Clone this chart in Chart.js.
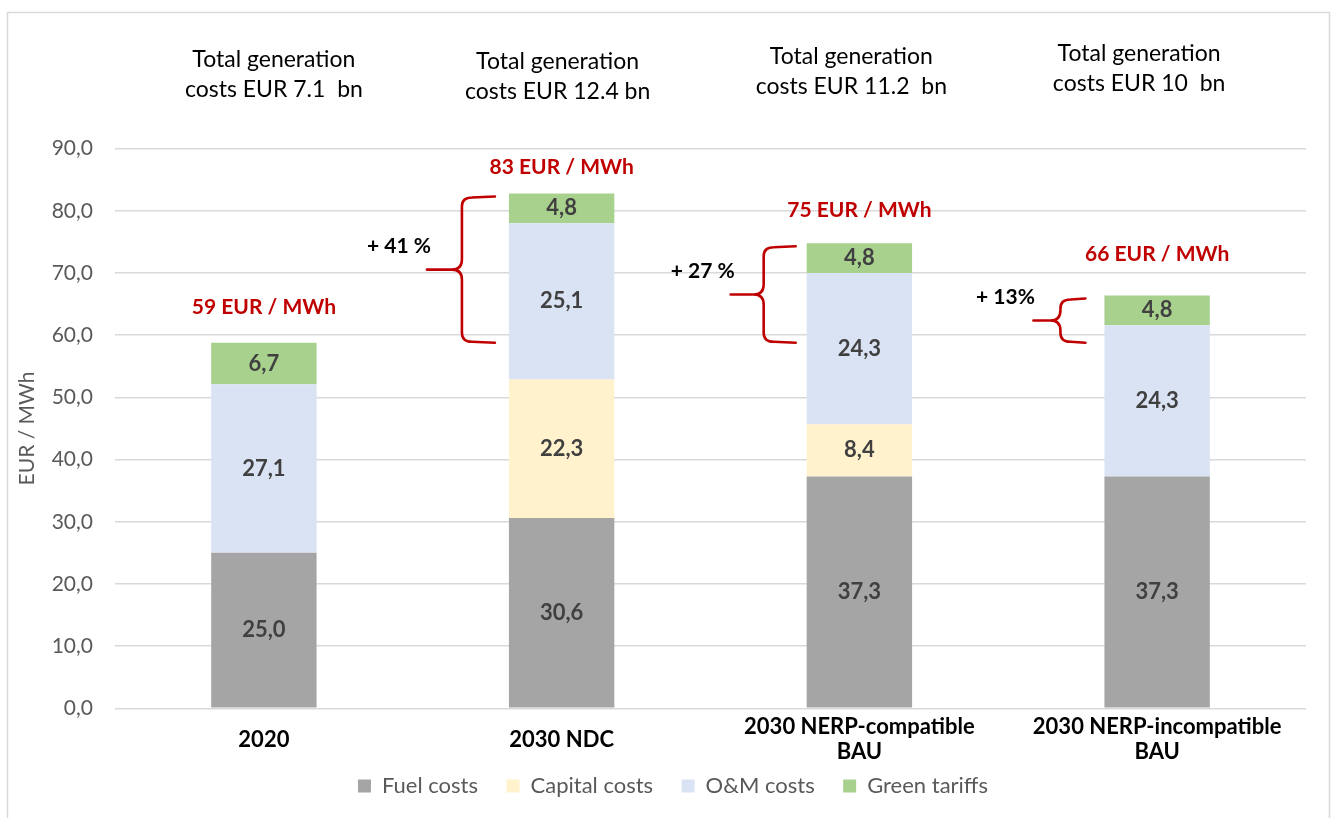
<!DOCTYPE html>
<html>
<head>
<meta charset="utf-8">
<script src="https://cdn.jsdelivr.net/npm/chart.js@4"></script>
<style>
  html, body { margin: 0; padding: 0; background: #fff; }
  #wrap { position: relative; width: 1335px; height: 818px; }
  canvas { display: block; }
</style>
</head>
<body>
<div id="wrap"><canvas id="c" width="1335" height="818"></canvas></div>
<script>
// ---- data ----
const categories = [
  '2020',
  '2030 NDC',
  ['2030 NERP-compatible', 'BAU'],
  ['2030 NERP-incompatible', 'BAU']
];
const fuelCosts    = [25.0, 30.6, 37.3, 37.3];
const capitalCosts = [0,    22.3, 8.4,  0];
const omCosts      = [27.1, 25.1, 24.3, 24.3];
const greenTariffs = [6.7,  4.8,  4.8,  4.8];
const seriesNames  = ['Fuel costs', 'Capital costs', 'O&M costs', 'Green tariffs'];
const totalLabels  = ['59 EUR / MWh', '83 EUR / MWh', '75 EUR / MWh', '66 EUR / MWh'];
const costNotes    = [
  ['Total generation', 'costs EUR 7.1  bn'],
  ['Total generation', 'costs EUR 12.4 bn'],
  ['Total generation', 'costs EUR 11.2  bn'],
  ['Total generation', 'costs EUR 10  bn']
];
const increaseLabels = ['+ 41 %', '+ 27 %', '+ 13%'];
const yMin = 0, yMax = 90, yStep = 10;

// ---- styling / annotation placement ----
const FONT = 'Lato';
const colors = ['#A5A5A5', '#FFF2CC', '#DAE3F3', '#A9D18E'];
const totalLabelLift = [35, 26, 33, 41];     // px above bar top
const noteLineY = [[60, 90], [62, 92], [57, 87], [54, 84]];
const noteDx = [10, -4, -8, -18];
const braceGeom = [[14, 47, 82], [11, 43, 76], [19, 44, 71]]; // offsets left of bar: end, vertical, tip

const fmt = v => v.toFixed(1).replace('.', ',');

const seriesData = [fuelCosts, capitalCosts, omCosts, greenTariffs];
const totals = categories.map((_, i) => seriesData.reduce((s, arr) => s + arr[i], 0));

const annotPlugin = {
  id: 'annot',
  beforeDraw(chart) {
    const ctx = chart.ctx;
    ctx.save();
    ctx.strokeStyle = '#D9D9D9';
    ctx.lineWidth = 1.5;
    ctx.strokeRect(7.5, 12.5, 1322, 900);
    ctx.restore();
  },
  afterDatasetsDraw(chart) {
    const ctx = chart.ctx;
    const x = chart.scales.x, y = chart.scales.y;
    ctx.save();
    // segment value labels
    ctx.textAlign = 'center';
    ctx.textBaseline = 'middle';
    ctx.font = `bold 22px ${FONT}`;
    ctx.fillStyle = '#404040';
    chart.data.datasets.forEach((ds, di) => {
      const meta = chart.getDatasetMeta(di);
      meta.data.forEach((bar, i) => {
        const v = ds.data[i];
        if (!v) return;
        ctx.fillText(fmt(v), bar.x, (bar.y + bar.base) / 2);
      });
    });
    // total labels (red)
    ctx.font = `bold 21px ${FONT}`;
    ctx.fillStyle = '#C00000';
    totals.forEach((t, i) => {
      ctx.fillText(totalLabels[i], x.getPixelForValue(i), y.getPixelForValue(t) - totalLabelLift[i]);
    });
    // top notes
    ctx.font = `23px ${FONT}`;
    ctx.fillStyle = '#000000';
    costNotes.forEach((lines, i) => {
      lines.forEach((ln, k) => ctx.fillText(ln, x.getPixelForValue(i) + noteDx[i], noteLineY[i][k]));
    });
    // braces
    const meta0 = chart.getDatasetMeta(0);
    const base = y.getPixelForValue(totals[0]);
    ctx.strokeStyle = '#C00000';
    ctx.lineWidth = 2.6;
    ctx.lineCap = 'round';
    for (let b = 0; b < 3; b++) {
      const bar = meta0.data[b + 1];
      const left = bar.x - bar.width / 2;
      const [oe, ov, ot] = braceGeom[b];
      const xe = left - oe, xv = left - ov, xt = left - ot;
      const yt = y.getPixelForValue(totals[b + 1]) + 3;
      const yb = base;
      const ym = (yt + yb) / 2;
      const r = Math.min(10, (yb - yt) / 4);
      ctx.beginPath();
      ctx.moveTo(xe, yt);
      ctx.lineTo(xv + r, yt + 1);
      ctx.quadraticCurveTo(xv, yt + 1, xv, yt + r);
      ctx.lineTo(xv, ym - r);
      ctx.quadraticCurveTo(xv, ym, xv - r, ym);
      ctx.lineTo(xt, ym);
      ctx.moveTo(xv - r, ym);
      ctx.quadraticCurveTo(xv, ym, xv, ym + r);
      ctx.lineTo(xv, yb - r);
      ctx.quadraticCurveTo(xv, yb - 1, xv + r, yb - 1);
      ctx.lineTo(xe, yb);
      ctx.stroke();
      // increase label
      ctx.font = `bold 21px ${FONT}`;
      ctx.fillStyle = '#000000';
      ctx.fillText(increaseLabels[b], xt - 28, ym - 23);
    }
    ctx.restore();
  }
};

new Chart(document.getElementById('c'), {
  type: 'bar',
  data: {
    labels: categories,
    datasets: seriesNames.map((name, i) => ({
      label: name,
      data: seriesData[i],
      backgroundColor: colors[i],
      borderWidth: 0,
      categoryPercentage: 1,
      barPercentage: 0.354
    }))
  },
  options: {
    responsive: false,
    animation: false,
    devicePixelRatio: 1,
    layout: { padding: { left: 40, right: 29, top: 148.7, bottom: 11 } },
    plugins: {
      tooltip: { enabled: false },
      legend: {
        position: 'bottom',
        labels: {
          boxWidth: 13, boxHeight: 13, padding: 12,
          color: '#595959',
          font: { family: FONT, size: 22 },
          generateLabels(chart) {
            const items = Chart.defaults.plugins.legend.labels.generateLabels(chart);
            items.forEach((it, i) => { if (i < items.length - 1) it.text = it.text + '\u2003'; });
            return items;
          }
        }
      }
    },
    scales: {
      x: {
        stacked: true,
        grid: { display: false, drawTicks: false },
        border: { display: false },
        ticks: {
          autoSkip: false, maxRotation: 0, minRotation: 0,
          padding: 19,
          crossAlign: 'center',
          color: '#000000',
          font: { family: FONT, size: 22, weight: 'bold', lineHeight: 1.14 }
        },
        afterFit(s) { s.height = 54.7; }
      },
      y: {
        stacked: true,
        min: yMin, max: yMax,
        grid: { color: '#D9D9D9', lineWidth: 1.5, drawTicks: false },
        border: { display: false },
        ticks: {
          stepSize: yStep,
          padding: 22,
          color: '#595959',
          font: { family: FONT, size: 21 },
          callback: v => fmt(v)
        },
        title: {
          display: true,
          text: 'EUR / MWh',
          color: '#595959',
          font: { family: FONT, size: 21 },
          padding: { top: -25, bottom: 0 }
        },
        afterFit(s) { s.width = 75; }
      }
    }
  },
  plugins: [annotPlugin]
});
</script>
</body>
</html>
